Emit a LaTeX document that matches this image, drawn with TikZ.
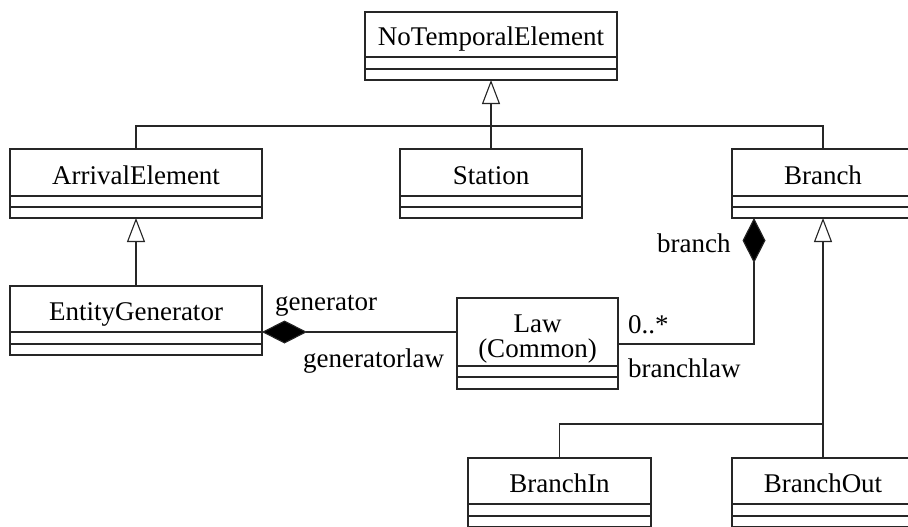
\documentclass[tikz,border=0pt]{standalone}
\usepackage{fontspec}
\setmainfont{Liberation Serif}
\usetikzlibrary{arrows.meta}
\newcommand\clsfont{\fontsize{27}{27}\selectfont}
\tikzset{
  classbox/.style={draw=black!85, line width=1.1pt, rectangle, inner sep=0pt, outer sep=0pt},
  classline/.style={draw=black!85, line width=1.1pt},
  conn/.style={draw=black!85, line width=1.1pt},
  genarrow/.style={conn, -{Triangle[open, length=24pt, width=18pt, fill=white]}},
  compo/.style={conn, {Diamond[length=45pt, width=23pt, fill=black]}-},
  clsname/.style={font=\clsfont, inner sep=0pt, anchor=base},
  role/.style={font=\clsfont, inner sep=0pt, anchor=base west}
}
% name, x1, y1, x2, y2, sep1, sep2, text
\newcommand\umlclass[8]{%
  \node[classbox, minimum width={(#4-#2)*1pt}, minimum height={(#5-#3)*1pt}, anchor=north west] (#1) at (#2,#3) {};
  \draw[classline] (#2,#6) -- (#4,#6) (#2,#7) -- (#4,#7);
  \node[clsname] (#1-name) at ({(#2+#4)/2},{#6-11.5}) {#8};
}
\begin{document}
\begin{tikzpicture}[x=1pt, y=-1pt]
  \fill[white] (0,0) rectangle (908,527);
  \useasboundingbox (0,0) rectangle (908,527);
  \clip (0,0) rectangle (908,527);

  \umlclass{nte}{365}{12}{617}{80}{57}{69}{NoTemporalElement}
  \umlclass{arrival}{10}{149}{262}{218}{196}{207}{ArrivalElement}
  \umlclass{station}{400}{149}{582}{218}{196}{207}{Station}
  \umlclass{branch}{732}{149}{914}{218}{196}{207}{Branch}
  \umlclass{entity}{10}{286}{262}{355}{332}{344}{EntityGenerator}
  \umlclass{branchin}{468}{458}{651}{527}{504}{516}{BranchIn}
  \umlclass{branchout}{732}{458}{914}{527}{504}{516}{BranchOut}

  % Law (Common)
  \node[classbox, minimum width=161pt, minimum height=91pt, anchor=north west] (law) at (457,298) {};
  \draw[classline] (457,366) -- (618,366) (457,377) -- (618,377);
  \node[font=\fontsize{27}{25}\selectfont, align=center, inner sep=0pt, anchor=base] (law-name) at (537.5,357) {Law\\(Common)};

  % generalizations to NoTemporalElement
  \coordinate (j1) at (491,126);
  \draw[genarrow] (station.north) -- (nte.south);
  \draw[conn] (arrival.north) |- (j1);
  \draw[conn] (branch.north) |- (j1);

  % EntityGenerator -> ArrivalElement
  \draw[genarrow] (entity.north) -- (arrival.south);

  % BranchIn / BranchOut -> Branch
  \coordinate (j2) at (823,424);
  \draw[genarrow] (branchout.north) -- (branch.south);
  \draw[conn] (branchin.north) |- (j2);

  % compositions
  \coordinate (c1) at (0,332);
  \draw[compo] (entity.east |- c1) -- (law.west |- c1);
  \coordinate (c2) at (754,344);
  \draw[compo] (branch.south -| c2) -- (c2) -- (law.east |- c2);

  % role labels
  \node[role] (lgen) at (275,310) {generator};
  \node[role] (lgenlaw) at (303,367) {generatorlaw};
  \node[role] (lmult) at (628,333) {0..*};
  \node[role] (lbrlaw) at (628,377) {branchlaw};
  \node[role] (lbr) at (657,252) {branch};
\end{tikzpicture}
\end{document}
